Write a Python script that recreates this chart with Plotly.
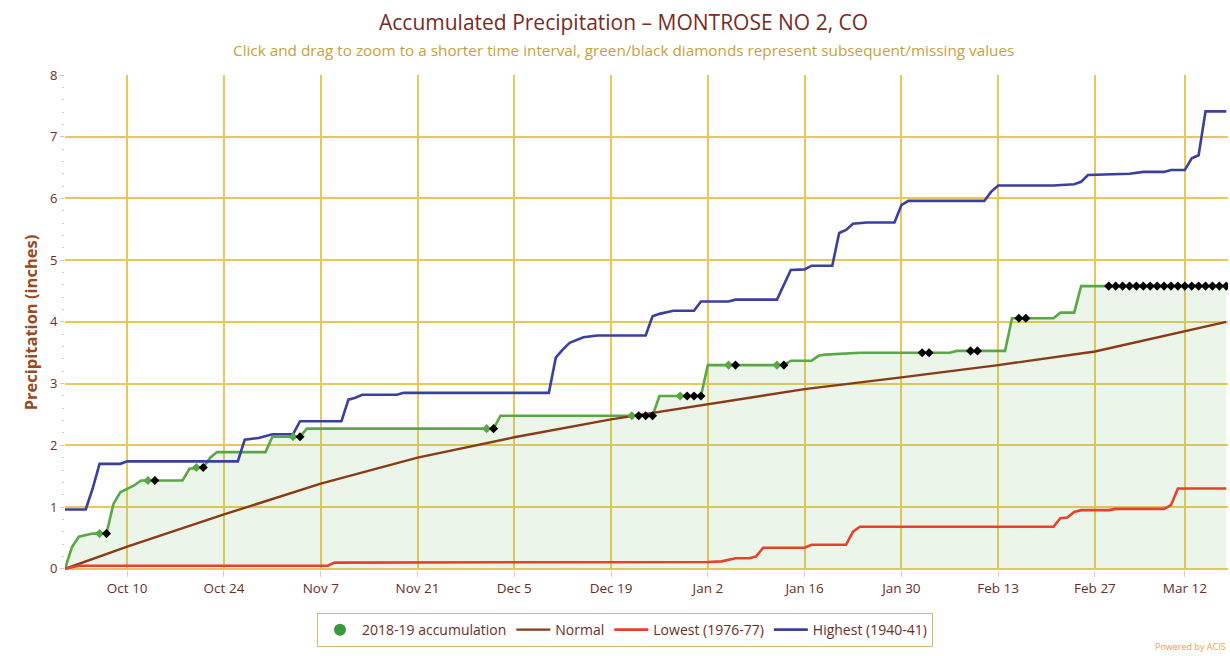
import plotly.graph_objects as go

# ---------------- data ----------------
green_dates = ["2018-10-01", "2018-10-02", "2018-10-03", "2018-10-04", "2018-10-05", "2018-10-07",
               "2018-10-08", "2018-10-09", "2018-10-10", "2018-10-11", "2018-10-12", "2018-10-18",
               "2018-10-19", "2018-10-21", "2018-10-22", "2018-10-23", "2018-10-30", "2018-10-31",
               "2018-11-04", "2018-11-05", "2018-12-02", "2018-12-03", "2018-12-25", "2018-12-26",
               "2019-01-01", "2019-01-02", "2019-01-13", "2019-01-14", "2019-01-17", "2019-01-18",
               "2019-01-19", "2019-01-24", "2019-02-06", "2019-02-07", "2019-02-14", "2019-02-15",
               "2019-02-21", "2019-02-22", "2019-02-24", "2019-02-25", "2019-03-18"]
green_vals = [0.00, 0.35, 0.52, 0.55, 0.57, 0.57,
              1.05, 1.24, 1.30, 1.35, 1.43, 1.43,
              1.62, 1.64, 1.80, 1.89, 1.89, 2.14,
              2.14, 2.27, 2.27, 2.48, 2.48, 2.80,
              2.80, 3.30, 3.30, 3.37, 3.37, 3.45,
              3.47, 3.50, 3.50, 3.53, 3.53, 4.06,
              4.06, 4.15, 4.15, 4.58, 4.58]

subsequent_dates = ["2018-10-06", "2018-10-13", "2018-10-20", "2018-11-03", "2018-12-01",
                    "2018-12-22", "2018-12-29", "2019-01-05", "2019-01-12"]
subsequent_vals = [0.57, 1.43, 1.64, 2.14, 2.27, 2.48, 2.80, 3.30, 3.30]

missing_dates = ["2018-10-07", "2018-10-14", "2018-10-21", "2018-11-04", "2018-12-02",
                 "2018-12-23", "2018-12-24", "2018-12-25", "2018-12-30", "2018-12-31",
                 "2019-01-01", "2019-01-06", "2019-01-13", "2019-02-02", "2019-02-03",
                 "2019-02-09", "2019-02-10", "2019-02-16", "2019-02-17",
                 "2019-03-01", "2019-03-02", "2019-03-03", "2019-03-04", "2019-03-05",
                 "2019-03-06", "2019-03-07", "2019-03-08", "2019-03-09", "2019-03-10",
                 "2019-03-11", "2019-03-12", "2019-03-13", "2019-03-14", "2019-03-15",
                 "2019-03-16", "2019-03-17", "2019-03-18"]
missing_vals = [0.57, 1.43, 1.64, 2.14, 2.27,
                2.48, 2.48, 2.48, 2.80, 2.80,
                2.80, 3.30, 3.30, 3.50, 3.50,
                3.53, 3.53, 4.06, 4.06,
                4.58, 4.58, 4.58, 4.58, 4.58,
                4.58, 4.58, 4.58, 4.58, 4.58,
                4.58, 4.58, 4.58, 4.58, 4.58,
                4.58, 4.58, 4.58]

normal_dates = ["2018-10-01", "2018-10-10", "2018-10-24", "2018-11-07", "2018-11-21", "2018-12-05",
                "2018-12-19", "2019-01-02", "2019-01-16", "2019-01-30", "2019-02-13", "2019-02-27",
                "2019-03-12", "2019-03-18"]
normal_vals = [0.00, 0.36, 0.88, 1.38, 1.80, 2.13, 2.42, 2.66, 2.91, 3.10, 3.30, 3.52, 3.84, 4.00]

lowest_dates = ["2018-10-01", "2018-10-03", "2018-11-08", "2018-11-09", "2019-01-02", "2019-01-04",
                "2019-01-06", "2019-01-08", "2019-01-09", "2019-01-10", "2019-01-16", "2019-01-17",
                "2019-01-22", "2019-01-23", "2019-01-24", "2019-02-21", "2019-02-22", "2019-02-23",
                "2019-02-24", "2019-02-25", "2019-03-01", "2019-03-02", "2019-03-09", "2019-03-10",
                "2019-03-11", "2019-03-18"]
lowest_vals = [0.00, 0.05, 0.05, 0.10, 0.11, 0.12,
               0.17, 0.17, 0.20, 0.34, 0.34, 0.39,
               0.39, 0.60, 0.68, 0.68, 0.82, 0.83,
               0.92, 0.95, 0.95, 0.97, 0.97, 1.03,
               1.30, 1.30]

highest_dates = ["2018-10-01", "2018-10-04", "2018-10-05", "2018-10-06", "2018-10-09", "2018-10-10",
                 "2018-10-26", "2018-10-27", "2018-10-29", "2018-10-31", "2018-11-03", "2018-11-04",
                 "2018-11-10", "2018-11-11", "2018-11-12", "2018-11-13", "2018-11-18", "2018-11-19",
                 "2018-12-10", "2018-12-11", "2018-12-12", "2018-12-13", "2018-12-15", "2018-12-17",
                 "2018-12-24", "2018-12-25", "2018-12-26", "2018-12-28", "2018-12-31", "2019-01-01",
                 "2019-01-05", "2019-01-06", "2019-01-12", "2019-01-13", "2019-01-14", "2019-01-16",
                 "2019-01-17", "2019-01-20", "2019-01-21", "2019-01-22", "2019-01-23", "2019-01-25",
                 "2019-01-29", "2019-01-30", "2019-01-31", "2019-02-11", "2019-02-12", "2019-02-13",
                 "2019-02-21", "2019-02-24", "2019-02-25", "2019-02-26", "2019-03-04", "2019-03-06",
                 "2019-03-09", "2019-03-10", "2019-03-12", "2019-03-13", "2019-03-14", "2019-03-15",
                 "2019-03-18"]
highest_vals = [0.96, 0.96, 1.30, 1.70, 1.70, 1.74,
                1.74, 2.09, 2.12, 2.18, 2.18, 2.39,
                2.39, 2.74, 2.77, 2.82, 2.82, 2.85,
                2.85, 3.42, 3.55, 3.66, 3.75, 3.78,
                3.78, 4.09, 4.13, 4.18, 4.18, 4.33,
                4.33, 4.36, 4.36, 4.60, 4.84, 4.85,
                4.91, 4.91, 5.44, 5.49, 5.59, 5.61,
                5.61, 5.89, 5.96, 5.96, 6.11, 6.21,
                6.21, 6.23, 6.27, 6.38, 6.40, 6.43,
                6.43, 6.46, 6.46, 6.65, 6.70, 7.41,
                7.41]

tick_dates = ["2018-10-10", "2018-10-24", "2018-11-07", "2018-11-21", "2018-12-05", "2018-12-19",
              "2019-01-02", "2019-01-16", "2019-01-30", "2019-02-13", "2019-02-27", "2019-03-12"]
tick_labels = ["Oct 10", "Oct 24", "Nov 7", "Nov 21", "Dec 5", "Dec 19",
               "Jan 2", "Jan 16", "Jan 30", "Feb 13", "Feb 27", "Mar 12"]

# ---------------- styles ----------------
GREEN = "#5aa845"
BROWN = "#8b3a17"
RED = "#e8402a"
BLUE = "#3b3f9e"
GRID = "#e8c85a"
TXT = "#6e2d22"
FONT = "Open Sans"

fig = go.Figure()

fig.add_trace(go.Scatter(x=green_dates, y=green_vals, mode="lines", fill="tozeroy",
                         fillcolor="rgba(120,185,110,0.15)", line=dict(color=GREEN, width=2.6),
                         showlegend=False, hoverinfo="skip"))
fig.add_trace(go.Scatter(x=[None], y=[None], mode="markers", name="2018-19 accumulation",
                         marker=dict(symbol="circle", size=12, color="#3a9a3a")))
fig.add_trace(go.Scatter(x=normal_dates, y=normal_vals, mode="lines", name="Normal",
                         line=dict(color=BROWN, width=2.4)))
fig.add_trace(go.Scatter(x=lowest_dates, y=lowest_vals, mode="lines", name="Lowest (1976-77)",
                         line=dict(color=RED, width=2.6)))
fig.add_trace(go.Scatter(x=highest_dates, y=highest_vals, mode="lines", name="Highest (1940-41)",
                         line=dict(color=BLUE, width=2.6)))
fig.add_trace(go.Scatter(x=subsequent_dates, y=subsequent_vals, mode="markers", showlegend=False,
                         marker=dict(symbol="diamond", size=7, color=GREEN)))
fig.add_trace(go.Scatter(x=missing_dates, y=missing_vals, mode="markers", showlegend=False,
                         marker=dict(symbol="diamond", size=7, color="black")))

fig.update_layout(
    width=1230, height=656,
    margin=dict(l=65, r=2, t=75, b=86, autoexpand=False),
    paper_bgcolor="white", plot_bgcolor="white",
    font=dict(family=FONT, color=TXT, size=12),
    showlegend=True,
    legend=dict(orientation="h", xref="paper", yref="paper", x=0.4815, xanchor="center",
                y=-0.087, yanchor="top", bordercolor="#d9b86a", borderwidth=1,
                bgcolor="white", font=dict(size=14, color=TXT), itemwidth=34,
                tracegroupgap=0),
    annotations=[
        dict(text="Accumulated Precipitation \u2013 MONTROSE NO 2, CO", xref="paper", yref="paper",
             x=0.4805, y=1.0, yshift=53, xanchor="center", yanchor="middle", showarrow=False,
             font=dict(size=21, color="#7a2b1e", family=FONT)),
        dict(text="Click and drag to zoom to a shorter time interval, green/black diamonds represent subsequent/missing values",
             xref="paper", yref="paper", x=0.4805, y=1.0, yshift=25, xanchor="center", yanchor="middle",
             showarrow=False, font=dict(size=15.3, color="#c9a13a", family=FONT)),
        dict(text="Powered by ACIS", xref="paper", yref="paper", x=1.0, y=-0.172, xanchor="right",
             yanchor="bottom", showarrow=False, font=dict(size=9, color="#f0a040", family=FONT)),
    ],
)

fig.update_xaxes(type="date", range=["2018-10-01", "2019-03-18 06:00"],
                 tickvals=tick_dates, ticktext=tick_labels,
                 showgrid=True, gridcolor=GRID, gridwidth=1.5,
                 ticks="outside", ticklen=6, tickcolor="#d8d0b8",
                 tickfont=dict(size=13.5, color=TXT), showline=False, zeroline=False,
                 fixedrange=True)
fig.update_yaxes(range=[-0.02, 8.0], dtick=1, showgrid=True, gridcolor=GRID, gridwidth=1.5,
                 zeroline=False, tickfont=dict(size=13, color=TXT),
                 ticks="outside", ticklen=4, tickcolor="#c8c8c8",
                 minor=dict(dtick=0.2, ticks="outside", ticklen=2, tickcolor="#cccccc", showgrid=False),
                 title=dict(text="<b>Precipitation (inches)</b>", standoff=8,
                            font=dict(size=16.5, color="#9a4a1c")),
                 fixedrange=True)

fig.write_html("out.html", config={"displayModeBar": False},
               post_script="document.body.style.margin='0';")
